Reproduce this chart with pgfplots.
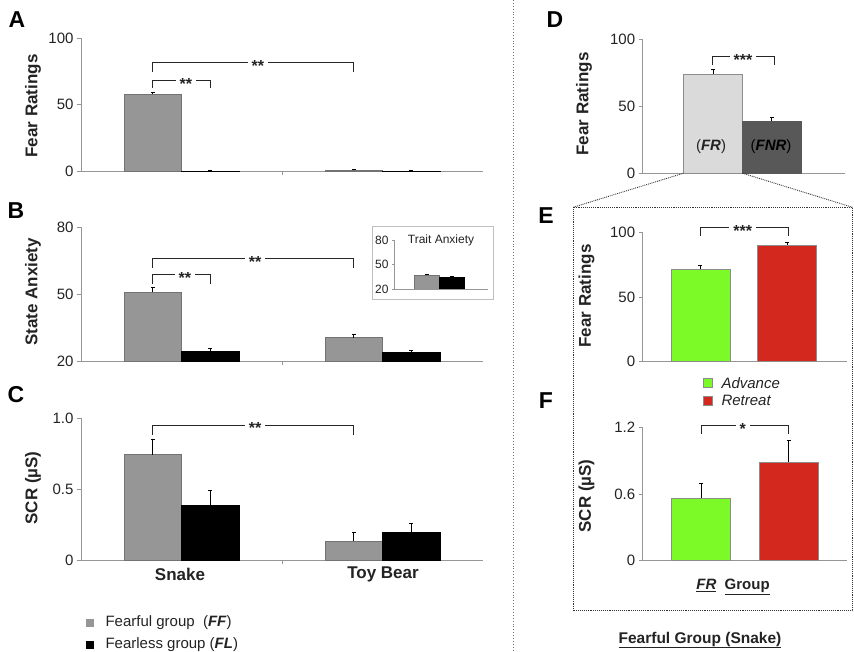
\documentclass[border=0pt]{standalone}
\usepackage{fontspec}
\setmainfont{Liberation Sans}
\usepackage{pgfplots}
\pgfplotsset{compat=1.18}
\definecolor{barGray}{RGB}{150,150,150}
\definecolor{barGrayD}{RGB}{115,115,115}
\definecolor{axGray}{RGB}{150,150,150}
\definecolor{txt}{RGB}{35,35,35}
\definecolor{lightG}{RGB}{218,218,218}
\definecolor{darkG}{RGB}{88,88,88}
\definecolor{adv}{RGB}{124,250,40}
\definecolor{ret}{RGB}{210,40,30}
\pgfplotsset{
  panel/.style={
    scale only axis, anchor=south west,
    axis x line*=bottom, axis y line*=left,
    axis line style={axGray, line width=0.8pt},
    tick style={axGray, line width=0.8pt},
    major tick length=4pt, tick align=outside,
    /pgf/number format/assume math mode=true,
    ticklabel style={font=\fontsize{15}{15}\selectfont, text=txt},
    xmin=0,
    error bars/y dir=plus, error bars/y explicit,
    error bars/error bar style={black, line width=0.7pt},
  },
  mybar/.style={ybar, bar shift=0pt, bar width=#1, line width=0.6pt},
}
\newcommand{\brk}[5]{\draw[black!85, line width=0.8pt] (axis cs:#1,#4) -- (axis cs:#1,#3) -- (axis cs:#2,#3) -- (axis cs:#2,#5);}
\newcommand{\stars}[3]{\node[fill=white, inner xsep=4pt, inner ysep=1pt, anchor=base, yshift=-9pt, font=\fontsize{16}{16}\selectfont\bfseries, text=txt] at (axis cs:#1,#2) {#3};}
\begin{document}
\begin{tikzpicture}
\path[use as bounding box] (0pt,0pt) rectangle (854pt,-652pt);

% ---------- A ----------
\begin{axis}[panel, at={(81pt,-171.3pt)}, width=402pt, height=133pt,
  xmax=2, ymin=0, ymax=100, ytick={0,50,100}, xtick={1}, xticklabels={}]
\addplot[mybar=0.286, fill=barGray, draw=barGrayD] coordinates {(0.357,58) +- (0,1.5) (1.357,0.6) +- (0,0.8)};
\addplot[mybar=0.286, fill=black, draw=black] coordinates {(0.643,0.2) +- (0,0.9) (1.643,0.2) +- (0,0.9)};
\brk{0.357}{0.643}{68.4}{63}{62.4}
\stars{0.522}{68.4}{**}
\brk{0.357}{1.357}{82}{74.5}{74.5}
\stars{0.88}{82}{**}
\end{axis}

% ---------- B ----------
\begin{axis}[panel, at={(81pt,-361.3pt)}, width=402pt, height=134pt,
  xmax=2, ymin=20, ymax=80, ytick={20,50,80}, xtick={1}, xticklabels={}]
\addplot[mybar=0.286, fill=barGray, draw=barGrayD] coordinates {(0.357,50.9) +- (0,2.3) (1.357,30.6) +- (0,1.5)};
\addplot[mybar=0.286, fill=black, draw=black] coordinates {(0.643,24.3) +- (0,1.5) (1.643,23.9) +- (0,0.9)};
\brk{0.357}{0.643}{58.8}{54.8}{54.5}
\stars{0.517}{58.8}{**}
\brk{0.357}{1.357}{66}{62}{62}
\stars{0.866}{66}{**}
\end{axis}

% inset
\draw[black!25, line width=0.8pt] (372pt,-226.7pt) rectangle (493pt,-299.3pt);
\begin{axis}[panel, at={(394pt,-289pt)}, width=94pt, height=49pt,
  xmax=1, ymin=20, ymax=80, ytick={20,50,80}, xtick=\empty,
  major tick length=2pt,
  ticklabel style={font=\fontsize{12}{12}\selectfont, text=txt}]
\addplot[mybar=0.266, fill=barGray, draw=barGrayD] coordinates {(0.346,36.8) +- (0,1.9)};
\addplot[mybar=0.266, fill=black, draw=black] coordinates {(0.612,34.7) +- (0,1.2)};
\end{axis}
\node[font=\fontsize{12}{12}\selectfont, text=txt] at (441pt,-240pt) {Trait Anxiety};

% ---------- C ----------
\begin{axis}[panel, at={(81pt,-560pt)}, width=402pt, height=141.7pt,
  xmax=2, ymin=0, ymax=1, ytick={0,0.5,1}, yticklabels={0,0.5,1.0}, xtick={1}, xticklabels={}]
\addplot[mybar=0.286, fill=barGray, draw=barGrayD] coordinates {(0.357,0.743) +- (0,0.111) (1.357,0.134) +- (0,0.064)};
\addplot[mybar=0.286, fill=black, draw=black] coordinates {(0.643,0.383) +- (0,0.111) (1.643,0.193) +- (0,0.068)};
\brk{0.357}{1.357}{0.953}{0.882}{0.882}
\stars{0.866}{0.953}{**}
\end{axis}

% ---------- D ----------
\begin{axis}[panel, at={(642.7pt,-173.3pt)}, width=202.3pt, height=134pt,
  xmax=1, ymin=0, ymax=100, ytick={0,50,100}, xtick=\empty]
\addplot[mybar=0.294, fill=lightG, draw=black!45] coordinates {(0.3475,74.1) +- (0,3.5)};
\addplot[mybar=0.287, fill=darkG, draw=darkG] coordinates {(0.638,39) +- (0,3.2)};
\brk{0.3426}{0.649}{87}{80.6}{80.6}
\stars{0.496}{87}{***}
\end{axis}

% ---------- E ----------
\begin{axis}[panel, at={(642.7pt,-361.7pt)}, width=204pt, height=129.4pt,
  xmax=1, ymin=0, ymax=100, ytick={0,50,100}, xtick=\empty, clip=false]
\addplot[mybar=0.289, fill=adv, draw=black!45] coordinates {(0.283,71.6) +- (0,3.1)};
\addplot[mybar=0.289, fill=ret, draw=black!45] coordinates {(0.708,90.2) +- (0,2.5)};
\brk{0.282}{0.714}{104}{97.4}{97.4}
\stars{0.49}{104}{***}
\end{axis}

% ---------- F ----------
\begin{axis}[panel, at={(642.7pt,-560.7pt)}, width=204pt, height=133.4pt,
  xmax=1, ymin=0, ymax=1.2, ytick={0,0.6,1.2}, yticklabels={0,0.6,1.2}, xtick=\empty, clip=false]
\addplot[mybar=0.289, fill=adv, draw=black!45] coordinates {(0.286,0.564) +- (0,0.136)};
\addplot[mybar=0.289, fill=ret, draw=black!45] coordinates {(0.716,0.885) +- (0,0.201)};
\brk{0.286}{0.714}{1.22}{1.14}{1.14}
\stars{0.49}{1.22}{*}
\end{axis}

\begin{scope}[x=1pt,y=-1pt]
% panel letters
\foreach \l/\x/\y in {A/17/20, B/16/211, C/16/394.5, D/555/20, E/546/216, F/546/400.5}
  \node[font=\fontsize{23}{23}\selectfont\bfseries] at (\x,\y) {\l};
% y labels
\tikzset{ylab/.style={rotate=90, font=\fontsize{17}{17}\selectfont\bfseries, text=txt}}
\node[ylab] at (33,106) {Fear Ratings};
\node[ylab] at (33,292) {State Anxiety};
\node[ylab] at (33,488) {SCR (µS)};
\node[ylab] at (584,104) {Fear Ratings};
\node[ylab] at (586.5,296) {Fear Ratings};
\node[ylab] at (586.5,496) {SCR (µS)};
% category labels
\node[font=\fontsize{17}{17}\selectfont\bfseries, text=txt] at (180,574) {Snake};
\node[font=\fontsize{17}{17}\selectfont\bfseries, text=txt] at (383,574) {Toy Bear};
% legend A-C
\node[fill=barGray, minimum size=8.5pt, inner sep=0pt] at (90,623) {};
\node[fill=black, minimum size=8.5pt, inner sep=0pt] at (90,645) {};
\node[anchor=west, font=\fontsize{15}{15}\selectfont, text=txt] at (102,623) {Fearful group\ \ (\textbf{\textit{FF}})};
\node[anchor=west, font=\fontsize{15}{15}\selectfont, text=txt] at (102,645) {Fearless group (\textbf{\textit{FL}})};
% D bar labels
\node[font=\fontsize{15}{15}\selectfont, text=txt] at (711,146.7) {(\textbf{\textit{FR}})};
\node[font=\fontsize{15}{15}\selectfont, text=black] at (771,146.7) {(\textbf{\textit{FNR}})};
% legend E
\node[fill=adv, draw=black!45, minimum size=9.5pt, inner sep=0pt] at (707.7,382.7) {};
\node[fill=ret, draw=black!45, minimum size=9.5pt, inner sep=0pt] at (707.7,400.7) {};
\node[anchor=west, font=\fontsize{15}{15}\selectfont\itshape, text=txt] at (718,382.7) {Advance};
\node[anchor=west, font=\fontsize{15}{15}\selectfont\itshape, text=txt] at (718,400.7) {Retreat};
% group labels
\node[font=\fontsize{15}{15}\selectfont\bfseries, text=txt] at (733,587) {\underline{\textit{FR}}\ \ \underline{Group}};
\node[font=\fontsize{15.5}{15.5}\selectfont\bfseries, text=txt] at (700,640) {\underline{Fearful Group (Snake)}};
% dividers and zoom box
\draw[black!55, dotted, line width=0.9pt] (513,0) -- (513,652);
\draw[black!80, densely dotted, line width=0.9pt] (573,207.3) rectangle (852.5,610.7);
\draw[black!80, densely dotted, line width=0.9pt] (683.3,173.3) -- (573,207.3);
\draw[black!80, densely dotted, line width=0.9pt] (742.7,173.3) -- (852.5,207.3);
\end{scope}
\end{tikzpicture}
\end{document}
